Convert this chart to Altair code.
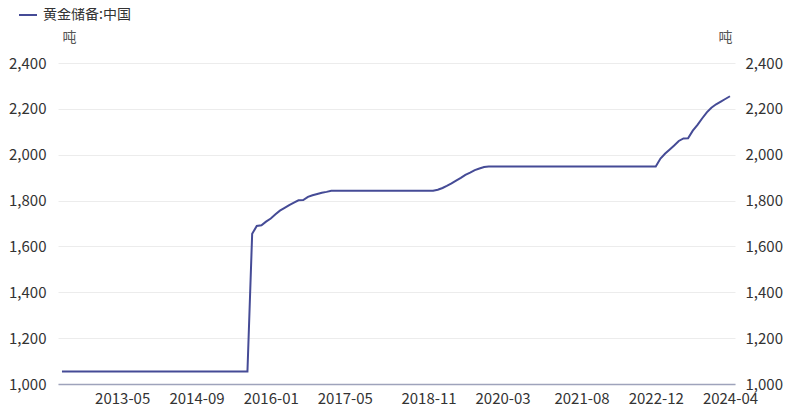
import altair as alt
import pandas as pd

# ---- data (tonnes) ----
series_name = "黄金储备:中国"

months = [
    "2012-04", "2015-08", "2015-09", "2015-10", "2015-11", "2015-12",
    "2016-01", "2016-02", "2016-03", "2016-04", "2016-05", "2016-06",
    "2016-07", "2016-08", "2016-09", "2016-10", "2016-11", "2016-12",
    "2017-01", "2017-02",
    "2018-12", "2019-01", "2019-02", "2019-03", "2019-04", "2019-05",
    "2019-06", "2019-07", "2019-08", "2019-09", "2019-10", "2019-11",
    "2019-12",
    "2022-12", "2023-01", "2023-02", "2023-03", "2023-04", "2023-05",
    "2023-06", "2023-07", "2023-08", "2023-09", "2023-10", "2023-11",
    "2023-12", "2024-01", "2024-02", "2024-03", "2024-04",
]
reserves = [
    1054.1, 1054.1, 1655, 1689, 1692, 1708,
    1722, 1740, 1756, 1768, 1780, 1791,
    1801, 1802, 1816, 1823, 1829, 1834,
    1838, 1842.6,
    1842.6, 1847, 1855, 1864, 1875, 1887,
    1899, 1912, 1922, 1933, 1940, 1946,
    1948.3,
    1948.3, 1983, 2005, 2022, 2040, 2060,
    2071, 2072, 2105, 2130, 2158, 2185,
    2205, 2220, 2232, 2243, 2255,
]

tick_months = ["2013-05", "2014-09", "2016-01", "2017-05", "2018-11",
               "2020-03", "2021-08", "2022-12", "2024-04"]
y_ticks = [1000, 1200, 1400, 1600, 1800, 2000, 2200, 2400]
unit_label = "吨"

df = pd.DataFrame({
    "month": [m.replace("-", "/") + "/01" for m in months],
    "value": reserves,
    "series": series_name,
})

LINE_COLOR = "#454b96"
FONT = "Noto Sans CJK SC"

def dt(s):
    y, m = s.split("-")
    return alt.DateTime(year=int(y), month=int(m), date=1)

x_enc = alt.X(
    "month:T",
    scale=alt.Scale(domain=[alt.DateTime(year=2012, month=3, date=6),
                            alt.DateTime(year=2024, month=5, date=4)]),
    axis=alt.Axis(
        values=[dt(t) for t in tick_months], format="%Y-%m", title=None,
        grid=False, ticks=False, domainColor="#9ea3bb", domainWidth=1.5,
        labelPadding=7, labelFontSize=15, labelColor="#333333",
        labelFont=FONT,
    ),
)

y_scale = alt.Scale(domain=[1000, 2400], nice=False, zero=False)

left = alt.Chart(df).mark_line(strokeWidth=2).encode(
    x=x_enc,
    y=alt.Y("value:Q", scale=y_scale, axis=alt.Axis(
        orient="left", values=y_ticks, format=",.0f", title=unit_label,
        titleAngle=0, titleX=4, titleY=-26, titleAlign="left",
        titleBaseline="middle", titleFontSize=14, titleFontWeight="normal",
        titleColor="#555555", titleFont=FONT,
        grid=True, gridColor="#ececec", domain=False, ticks=False,
        labelPadding=12, labelFontSize=15, labelColor="#333333",
        labelFont=FONT,
    )),
    color=alt.Color("series:N", scale=alt.Scale(range=[LINE_COLOR]),
                    legend=alt.Legend(
                        orient="none", legendX=-40, legendY=-58, title=None,
                        symbolType="stroke", symbolStrokeWidth=2,
                        symbolSize=324, labelFontSize=14, labelOffset=5,
                        labelColor="#333333", labelFont=FONT,
                    )),
)

right = alt.Chart(df).mark_line(strokeOpacity=0).encode(
    x=x_enc,
    y=alt.Y("value:Q", scale=y_scale, axis=alt.Axis(
        orient="right", values=y_ticks, format=",.0f", title=unit_label,
        titleAngle=0, titleX=-3, titleY=-26, titleAlign="right",
        titleBaseline="middle", titleFontSize=14, titleFontWeight="normal",
        titleColor="#555555", titleFont=FONT,
        grid=False, domain=False, ticks=False,
        labelPadding=10, labelFontSize=15, labelColor="#333333",
        labelFont=FONT,
    )),
)

chart = alt.layer(left, right).resolve_scale(y="independent").properties(
    width=677, height=321,
    autosize=alt.AutoSizeParams(type="none"),
    padding={"left": 50, "top": 55, "right": 57, "bottom": 24},
).configure_view(stroke=None)

chart.save("out.html", embed_options={"renderer": "svg", "actions": False})
